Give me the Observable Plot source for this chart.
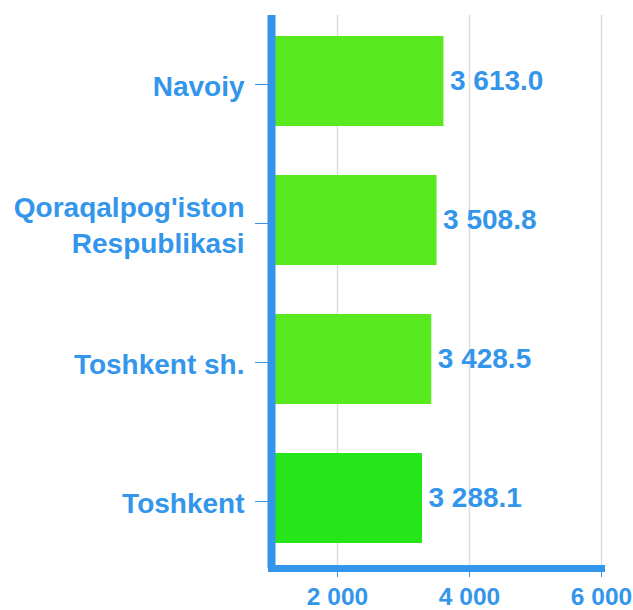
<!DOCTYPE html>
<html>
<head>
<meta charset="utf-8">
<script src="https://cdn.jsdelivr.net/npm/d3@7"></script>
<script src="https://cdn.jsdelivr.net/npm/@observablehq/plot@0.6"></script>
<style>
  html, body { margin: 0; padding: 0; background: #fff; }
</style>
</head>
<body>
<div id="chart"></div>
<script>
const regions = ["Navoiy", "Qoraqalpog'iston Respublikasi", "Toshkent sh.", "Toshkent"];
const regionLabels = ["Navoiy", "Qoraqalpog'iston\nRespublikasi", "Toshkent sh.", "Toshkent"];
const values = [3613.0, 3508.8, 3428.5, 3288.1];
const barColors = ["#58ea1e", "#58ea1e", "#58ea1e", "#26e619"];
const xTicks = [2000, 4000, 6000];
const xDomain = [1000, 6000];

const blue = "#3396eb";
const data = regions.map((r, i) => ({region: r, value: values[i], color: barColors[i]}));
const labelOf = new Map(regions.map((r, i) => [r, regionLabels[i]]));
const loc = d3.formatLocale({decimal: ".", thousands: " ", grouping: [3], currency: ["", ""]});
const fmtVal = loc.format(",.1f");
const fmtTick = loc.format(",.0f");

const font = "'Liberation Sans', Arial, sans-serif";

const chart = Plot.plot({
  width: 633,
  height: 610,
  marginTop: 15,
  marginBottom: 42,
  marginLeft: 271,
  marginRight: 32,
  style: {fontFamily: font, fontWeight: "bold", color: blue, background: "#fff"},
  x: {domain: xDomain},
  y: {domain: regions, range: [15, 563], paddingInner: 0.354, paddingOuter: 0.1435},
  marks: [
    Plot.gridX(xTicks, {stroke: "#dddddd", strokeOpacity: 1, strokeWidth: 1.5}),
    Plot.barX(data, {x1: () => xDomain[0], x2: "value", y: "region", fill: "color"}),
    Plot.text(data, {x: "value", y: "region", text: d => fmtVal(d.value), dx: 6, textAnchor: "start", fill: blue, fontSize: 28, fontWeight: "bold"}),
    Plot.ruleX([xDomain[0]], {stroke: blue, strokeWidth: 8}),
    Plot.frame({anchor: "bottom", stroke: blue, strokeWidth: 7}),
    Plot.axisX({ticks: xTicks, tickFormat: fmtTick, tickSize: 9, tickPadding: 10, fontSize: 24.5, fontWeight: "bold", stroke: blue, fill: blue, label: null}),
    Plot.axisY({tickFormat: d => labelOf.get(d), tickSize: 16, tickPadding: 11, dy: 3, fontSize: 28, fontWeight: "bold", lineHeight: 1.3, stroke: blue, fill: blue, label: null})
  ]
});
document.getElementById("chart").appendChild(chart);
</script>
</body>
</html>
